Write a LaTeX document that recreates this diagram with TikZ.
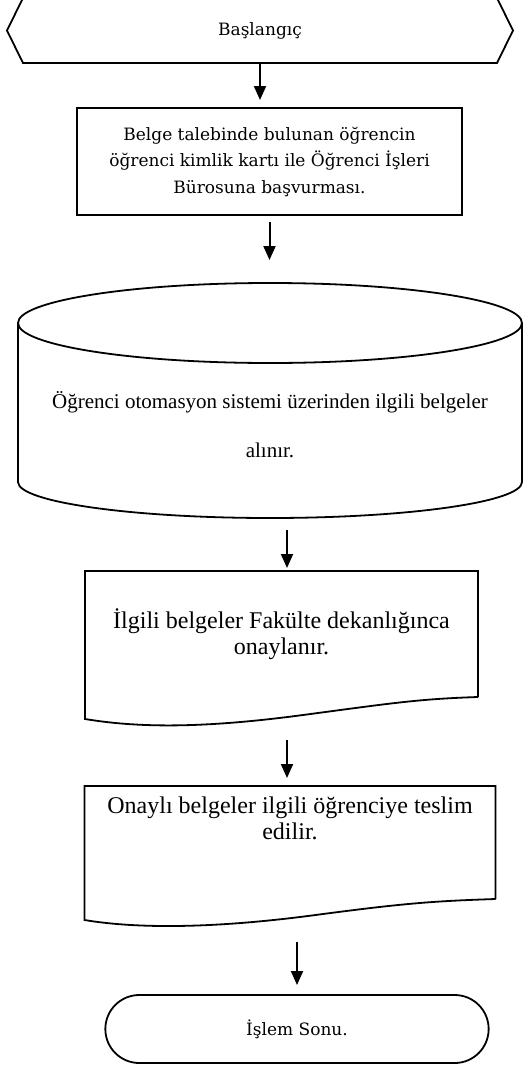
\documentclass[tikz,border=0pt]{standalone}
\usepackage{fontspec}
\newfontfamily\timesfont{Liberation Serif}
\newfontfamily\cambfont{DejaVu Serif}
\usetikzlibrary{arrows.meta,positioning,shapes.misc}

\begin{document}
\begin{tikzpicture}[x=1pt,y=-1pt,line width=1.8pt,
                    >={Triangle[width=12pt,length=14pt]},
                    flow/.style={->,line width=2pt}]
				\tikzstyle{cambria}=[align=center,outer sep=0pt,font=\cambfont\fontsize{17}{26.5}\selectfont]
				\tikzstyle{times}=[align=center,outer sep=0pt,font=\timesfont\fontsize{24}{26}\selectfont]
				\useasboundingbox (0,0) rectangle (530,1068);

				\node[cambria,minimum width=474pt,minimum height=65pt]	(start)	at (260,30.5)	{Başlangıç};
				\node[cambria,draw,line width=2.6pt,minimum width=385pt,minimum height=107pt]	(request)	at (269.5,161.5)
					{Belge talebinde bulunan öğrencin\\öğrenci kimlik kartı ile Öğrenci İşleri\\Bürosuna başvurması.};
				\node[times,font=\timesfont\fontsize{21}{49}\selectfont,minimum width=504pt,minimum height=187pt]	(system)	at (270,424.5)
					{Öğrenci otomasyon sistemi üzerinden ilgili belgeler\\alınır.};
				\node[times,minimum width=393pt,minimum height=126pt]	(approve)	at (281.5,634)
					{İlgili belgeler Fakülte dekanlığınca\\onaylanır.};
				\node[times,minimum width=411pt,minimum height=64pt]	(deliver)	at (290,818)
					{Onaylı belgeler ilgili öğrenciye teslim\\edilir.};
				\node[cambria,draw,rounded rectangle,minimum width=390pt,minimum height=68pt]	(finish)	at (297,1029)	{İşlem Sonu.};

				% outlines
				\draw (start.north west) -- (start.north east) -- ([xshift=16pt]start.east) -- (start.south east)
					-- (start.south west) -- ([xshift=-16pt]start.west) -- cycle;
				\draw ([yshift=8pt]system.north) ellipse [x radius=252pt,y radius=40pt];
				\draw ([yshift=8pt]system.north west) -- ([yshift=36pt]system.south west)
					arc [start angle=180,end angle=360,x radius=252pt,y radius=36pt] -- ([yshift=8pt]system.north east);
				\draw (approve.south east) -- (approve.north east) -- (approve.north west) -- ([yshift=-22pt]approve.south west)
					.. controls +(60,10) and +(-90,12) .. ([xshift=-175pt,yshift=-18pt]approve.south east)
					.. controls +(90,-12) and +(-60,2) .. (approve.south east);
				\draw ([yshift=-49pt]deliver.south east) -- (deliver.north east) -- (deliver.north west) -- ([yshift=-70pt]deliver.south west)
					.. controls +(60,10) and +(-90,12) .. ([xshift=-180pt,yshift=-65pt]deliver.south east)
					.. controls +(90,-12) and +(-60,2) .. ([yshift=-49pt]deliver.south east);

				% connectors
				\draw[flow,shorten >=8pt]	(start.south)	--	(start.south |- request.north);
				\draw[flow,shorten <=7pt,shorten >=71pt]	(request.south)	--	(request.south |- system.north);
				\draw[flow,shorten <=12pt,shorten >=3pt]	([xshift=5.5pt]approve.north |- system.south)	--	([xshift=5.5pt]approve.north);
				\draw[flow,shorten <=43pt,shorten >=8pt]	([xshift=-3pt]deliver.north |- approve.south)	--	([xshift=-3pt]deliver.north);
				\draw[flow,shorten <=92pt,shorten >=10pt]	(finish.north |- deliver.south)	--	(finish.north);
	\end{tikzpicture}
\end{document}
